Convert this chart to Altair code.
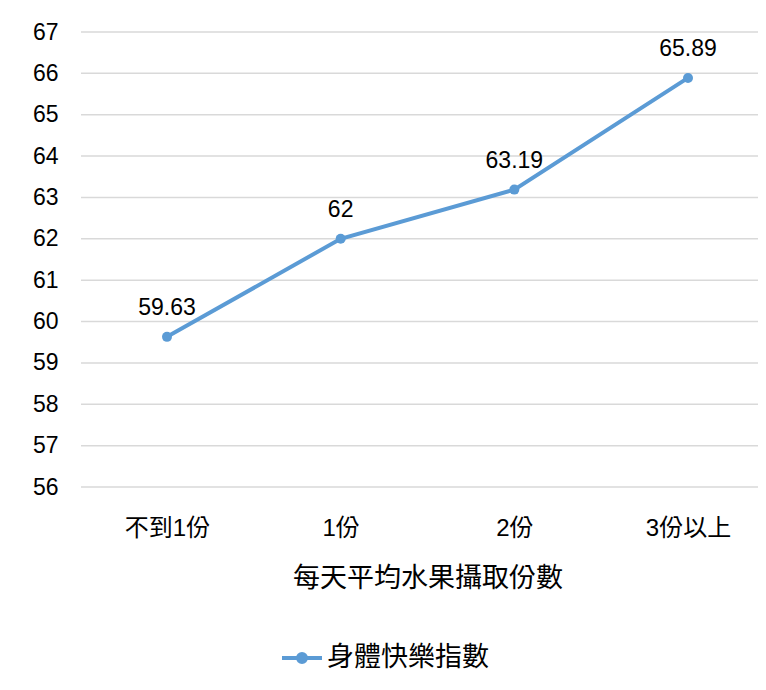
import altair as alt
import pandas as pd

categories = ["不到1份", "1份", "2份", "3份以上"]
values = [59.63, 62, 63.19, 65.89]
labels = ["59.63", "62", "63.19", "65.89"]
series_name = "身體快樂指數"
x_title = "每天平均水果攝取份數"
y_ticks = list(range(56, 68))

df = pd.DataFrame({"cat": categories, "val": values, "lab": labels,
                   "series": [series_name] * len(categories)})
grid_df = pd.DataFrame({"g": y_ticks})

FONT = "Liberation Sans, Arial, Noto Sans CJK TC"
BLUE = "#5B9BD5"
W, H = 677, 455

x_scale = alt.Scale(type="point", range=[86, 607], padding=0)
y_scale = alt.Scale(domain=[56, 67], nice=False, zero=False)

grid = alt.Chart(grid_df).mark_rule(color="#d9d9d9", strokeWidth=1.5).encode(
    y=alt.Y("g:Q", scale=y_scale, title=None,
            axis=alt.Axis(values=y_ticks, labelFontSize=23, labelPadding=23,
                          labelColor="#000", ticks=False, domain=False, grid=False,
                          labelFont=FONT)),
    x=alt.value(0), x2=alt.value(W)
)

x_enc = alt.X("cat:N", sort=categories, title=x_title, scale=x_scale,
              axis=alt.Axis(labelAngle=0, labelFontSize=24, labelPadding=29,
                            labelColor="#000", titleFontSize=27, titleFontWeight="normal",
                            titleColor="#000", titlePadding=25, ticks=False, domain=False,
                            grid=False, labelFont=FONT, titleFont=FONT))

legend_symbol = "M-1,0H1 M-0.2,0A0.2,0.2 0 1,0 0.2,0A0.2,0.2 0 1,0 -0.2,0Z"

line = alt.Chart(df).mark_line(strokeWidth=4, point=alt.OverlayMarkDef(size=100, filled=True, color=BLUE)).encode(
    x=x_enc, y=alt.Y("val:Q", scale=y_scale),
    color=alt.Color("series:N", scale=alt.Scale(range=[BLUE]), title=None,
                    legend=alt.Legend(orient="none", legendX=199, legendY=604,
                                      symbolType=legend_symbol, symbolSize=1600,
                                      symbolStrokeWidth=4, symbolFillColor=BLUE,
                                      symbolStrokeColor=BLUE,
                                      labelFontSize=27, labelFont=FONT, labelColor="#000",
                                      labelOffset=3, labelLimit=0))
)

text = alt.Chart(df).mark_text(dy=-29, fontSize=23, font=FONT, color="#000").encode(
    x=alt.X("cat:N", sort=categories, scale=x_scale),
    y=alt.Y("val:Q", scale=y_scale), text="lab:N"
)

chart = alt.layer(grid, line, text).properties(
    width=W, height=H,
    autosize=alt.AutoSizeParams(type="none"),
    padding={"left": 73, "top": 24, "right": 0, "bottom": 195},
).configure_view(stroke=None)

chart.save("out.html", embed_options={"renderer": "svg", "actions": False})
